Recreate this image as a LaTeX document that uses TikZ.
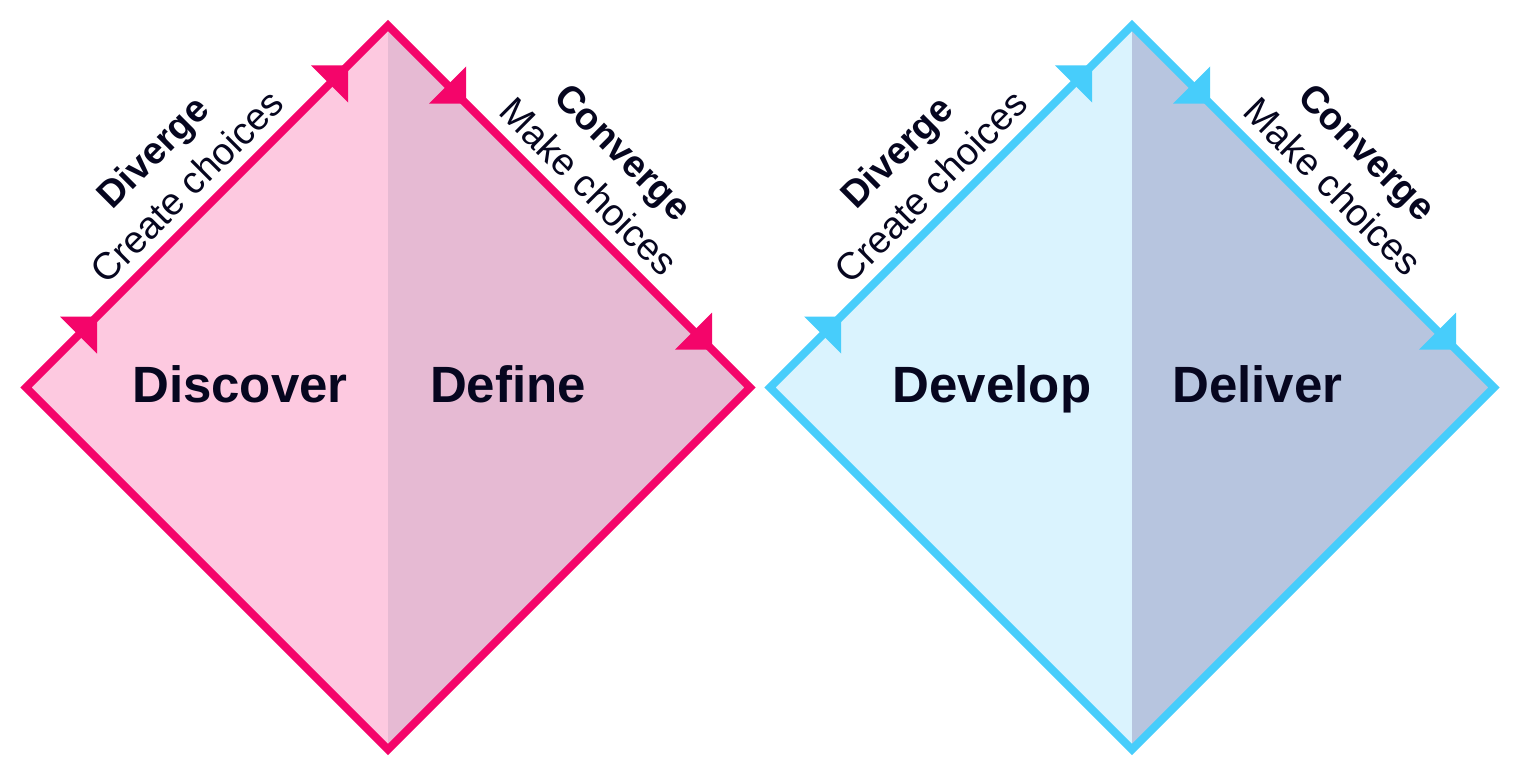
\documentclass[tikz,border=0pt]{standalone}
\usepackage{fontspec}
\setmainfont{Liberation Sans}
\definecolor{pinkline}{HTML}{F4056A}
\definecolor{pinkL}{HTML}{FDC9E0}
\definecolor{pinkR}{HTML}{E6BAD3}
\definecolor{blueline}{HTML}{47CDFB}
\definecolor{blueL}{HTML}{DAF3FE}
\definecolor{blueR}{HTML}{B7C5DF}
\definecolor{ink}{HTML}{06061F}
\tikzset{
  edgeline/.style={line width=8pt, line join=miter},
  phase/.style={text=ink, font=\fontsize{51}{60}\selectfont\bfseries, anchor=base, inner sep=0pt},
  modetitle/.style={text=ink, font=\fontsize{38}{44}\selectfont\bfseries, anchor=base, inner sep=0pt},
  modesub/.style={text=ink, font=\fontsize{38}{44}\selectfont, anchor=base, inner sep=0pt},
}
\begin{document}
\begin{tikzpicture}[x=1pt,y=-1pt]
\path[use as bounding box] (0,0) rectangle (1520,776);

% ---------- pink diamond ----------
\coordinate (pL) at (26,387.5);
\coordinate (pT) at (388,25.5);
\coordinate (pR) at (750,387.5);
\coordinate (pB) at (388,749.5);
\fill[pinkL] (pL) -- (pT) -- (pB) -- cycle;
\fill[pinkR] (pT) -- (pR) -- (pB) -- cycle;
\draw[pinkline, edgeline] (pL) -- (pT) -- (pR) -- (pB) -- cycle;
\fill[pinkline] (97,316.5) -- ++(-37,0) -- ++(37,37) -- cycle;
\fill[pinkline] (348,65.5) -- ++(-37,0) -- ++(37,37) -- cycle;
\fill[pinkline] (466,103.5) -- ++(0,-37) -- ++(-37,37) -- cycle;
\fill[pinkline] (712,349.5) -- ++(0,-37) -- ++(-37,37) -- cycle;

\node[phase] (discover) at (240,402) {Discover};
\node[phase] (define) at (508,402) {Define};
\node[modetitle, rotate=45] (div1) at (161.75,161.25) {Diverge};
\node[modesub, rotate=45] (div1s) at (196.4,195.9) {Create choices};
\node[modetitle, rotate=-45] (con1) at (614.25,161.25) {Converge};
\node[modesub, rotate=-45] (con1s) at (579.6,195.9) {Make choices};

% ---------- blue diamond ----------
\coordinate (bL) at (770,387.5);
\coordinate (bT) at (1132,25.5);
\coordinate (bR) at (1494,387.5);
\coordinate (bB) at (1132,749.5);
\fill[blueL] (bL) -- (bT) -- (bB) -- cycle;
\fill[blueR] (bT) -- (bR) -- (bB) -- cycle;
\draw[blueline, edgeline] (bL) -- (bT) -- (bR) -- (bB) -- cycle;
\fill[blueline] (841,316.5) -- ++(-37,0) -- ++(37,37) -- cycle;
\fill[blueline] (1092,65.5) -- ++(-37,0) -- ++(37,37) -- cycle;
\fill[blueline] (1210,103.5) -- ++(0,-37) -- ++(-37,37) -- cycle;
\fill[blueline] (1456,349.5) -- ++(0,-37) -- ++(-37,37) -- cycle;

\node[phase] (develop) at (992,402) {Develop};
\node[phase] (deliver) at (1257.5,402) {Deliver};
\node[modetitle, rotate=45] (div2) at (905.75,161.25) {Diverge};
\node[modesub, rotate=45] (div2s) at (940.4,195.9) {Create choices};
\node[modetitle, rotate=-45] (con2) at (1358.25,161.25) {Converge};
\node[modesub, rotate=-45] (con2s) at (1323.6,195.9) {Make choices};
\end{tikzpicture}
\end{document}
